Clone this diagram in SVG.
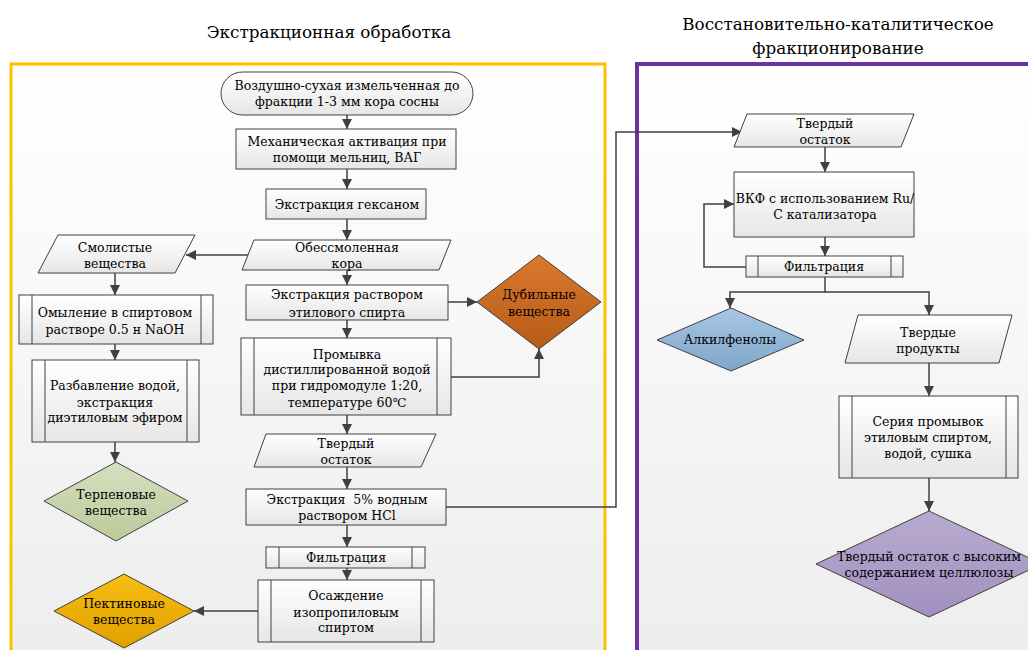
<svg xmlns="http://www.w3.org/2000/svg" width="1028" height="650" viewBox="0 0 1028 650">
<defs>
<linearGradient id="bg" x1="0" y1="0" x2="0" y2="1"><stop offset="0" stop-color="#FFFFFF"/><stop offset="1" stop-color="#EDEDED"/></linearGradient>
<linearGradient id="ng" x1="0" y1="0" x2="0" y2="1"><stop offset="0" stop-color="#FFFFFF"/><stop offset="1" stop-color="#E6E6E6"/></linearGradient>
<linearGradient id="gBrown" x1="0" y1="0" x2="0" y2="1"><stop offset="0" stop-color="#DB7A2E"/><stop offset="1" stop-color="#B65A16"/></linearGradient>
<linearGradient id="gGreen" x1="0" y1="0" x2="0" y2="1"><stop offset="0" stop-color="#D6DFC0"/><stop offset="1" stop-color="#BCCA9C"/></linearGradient>
<linearGradient id="gGold" x1="0" y1="0" x2="0" y2="1"><stop offset="0" stop-color="#F8BE10"/><stop offset="1" stop-color="#E0A000"/></linearGradient>
<linearGradient id="gBlue" x1="0" y1="0" x2="0" y2="1"><stop offset="0" stop-color="#A8C6E2"/><stop offset="1" stop-color="#7EA6CB"/></linearGradient>
<linearGradient id="gPurple" x1="0" y1="0" x2="0" y2="1"><stop offset="0" stop-color="#B8ABCF"/><stop offset="1" stop-color="#A190BF"/></linearGradient>
<marker id="arr" markerUnits="userSpaceOnUse" markerWidth="10" markerHeight="10" viewBox="0 0 10 10" refX="10" refY="5" orient="auto"><path d="M0,0 L10,5 L0,10 z" fill="#404040"/></marker>
<style>
.frame1{fill:url(#bg);stroke:#FFC000;stroke-width:3}
.frame2{fill:url(#bg);stroke:#7030A0;stroke-width:4}
.node{fill:url(#ng);stroke:#404040;stroke-width:1}
.dia{stroke:#404040;stroke-width:1}
.inner{stroke:#404040;stroke-width:1;fill:none}
.t{font-family:"DejaVu Serif",serif;font-size:12.5px;text-anchor:middle;fill:#000}
.title{font-family:"DejaVu Serif",serif;font-size:16.8px;text-anchor:middle;fill:#000}
.conn{fill:none;stroke:#404040;stroke-width:1.5}
.ar{marker-end:url(#arr)}
</style>
</defs>

<g id="titles">
<text class="title" x="329" y="38">Экстракционная обработка</text>
<text class="title" x="838" y="30">Восстановительно-каталитическое</text>
<text class="title" x="838" y="54">фракционирование</text>
</g>

<g id="frames">
<rect class="frame1" x="11" y="64" width="594" height="600"/>
<rect class="frame2" x="637" y="64" width="400" height="600"/>
</g>

<g id="connectors">
<path class="conn ar" d="M347,115 V129"/>
<path class="conn ar" d="M347,169 V189"/>
<path class="conn ar" d="M347,219 V240"/>
<path class="conn ar" d="M248,255 H186"/>
<path class="conn ar" d="M115,273 V295"/>
<path class="conn ar" d="M115,344 V360"/>
<path class="conn ar" d="M347,270 V285"/>
<path class="conn ar" d="M448,302 H477"/>
<path class="conn ar" d="M347,320 V338"/>
<path class="conn ar" d="M451,377 H539 V349"/>
<path class="conn ar" d="M347,415 V434"/>
<path class="conn ar" d="M115,442 V462"/>
<path class="conn ar" d="M347,467 V489"/>
<path class="conn ar" d="M446,507 H616 V132 H742"/>
<path class="conn ar" d="M347,525 V547"/>
<path class="conn ar" d="M347,568 V580"/>
<path class="conn ar" d="M258,611 H194"/>
<path class="conn ar" d="M825,147 V172"/>
<path class="conn ar" d="M825,237 V256"/>
<path class="conn ar" d="M746,267 H704 V204 H734"/>
<path class="conn ar" d="M825,277 V292 H730 V308"/>
<path class="conn ar" d="M825,292 H929 V315"/>
<path class="conn ar" d="M929,363 V396"/>
<path class="conn ar" d="M929,478 V511"/>
</g>

<g id="n-start">
<rect class="node" x="221" y="72" width="252" height="43" rx="21.5" ry="21.5"/>
<text class="t" x="347" y="90">Воздушно-сухая измельченная до</text>
<text class="t" x="347" y="106">фракции 1-3 мм кора сосны</text>
</g>
<g id="n-mech">
<rect class="node" x="236" y="129" width="220" height="40"/>
<text class="t" x="347" y="146">Механическая активация при</text>
<text class="t" x="347" y="162">помощи мельниц, ВАГ</text>
</g>
<g id="n-hexane">
<rect class="node" x="266" y="189" width="160" height="30"/>
<text class="t" x="347" y="209">Экстракция гексаном</text>
</g>
<g id="n-deresined">
<polygon class="node" points="254,240 451,240 439,270 242,270"/>
<text class="t" x="347" y="252">Обессмоленная</text>
<text class="t" x="347" y="268">кора</text>
</g>
<g id="n-resin">
<polygon class="node" points="58,235 195,235 175,273 38,273"/>
<text class="t" x="115" y="252">Смолистые</text>
<text class="t" x="115" y="268">вещества</text>
</g>
<g id="n-saponif">
<rect class="node" x="19" y="295" width="194" height="49"/>
<line class="inner" x1="32" y1="295" x2="32" y2="344"/>
<line class="inner" x1="201" y1="295" x2="201" y2="344"/>
<text class="t" x="115" y="317">Омыление в спиртовом</text>
<text class="t" x="115" y="334">растворе 0.5 н NaOH</text>
</g>
<g id="n-dilution">
<rect class="node" x="32" y="360" width="167" height="82"/>
<line class="inner" x1="45" y1="360" x2="45" y2="442"/>
<line class="inner" x1="187" y1="360" x2="187" y2="442"/>
<text class="t" x="115" y="390">Разбавление водой,</text>
<text class="t" x="115" y="407">экстракция</text>
<text class="t" x="115" y="422">диэтиловым эфиром</text>
</g>
<g id="n-terpene">
<polygon class="dia" fill="url(#gGreen)" points="116,462 188,501 116,541 44,501"/>
<text class="t" x="116" y="499">Терпеновые</text>
<text class="t" x="116" y="515">вещества</text>
</g>
<g id="n-ethanol">
<rect class="node" x="246" y="285" width="202" height="35"/>
<text class="t" x="347" y="299">Экстракция раствором</text>
<text class="t" x="347" y="317">этилового спирта</text>
</g>
<g id="n-tannin">
<polygon class="dia" fill="url(#gBrown)" points="539,255 601,302 539,349 477,302"/>
<text class="t" x="539" y="299">Дубильные</text>
<text class="t" x="539" y="316">вещества</text>
</g>
<g id="n-wash">
<rect class="node" x="241" y="338" width="210" height="77"/>
<line class="inner" x1="254" y1="338" x2="254" y2="415"/>
<line class="inner" x1="437" y1="338" x2="437" y2="415"/>
<text class="t" x="347" y="359">Промывка</text>
<text class="t" x="347" y="374">дистиллированной водой</text>
<text class="t" x="347" y="390">при гидромодуле 1:20,</text>
<text class="t" x="347" y="407">температуре 60℃</text>
</g>
<g id="n-solid1">
<polygon class="node" points="266,434 436,434 421,467 254,467"/>
<text class="t" x="346" y="448">Твердый</text>
<text class="t" x="346" y="464">остаток</text>
</g>
<g id="n-hcl">
<rect class="node" x="246" y="489" width="200" height="36"/>
<text class="t" x="347" y="504" xml:space="preserve">Экстракция  5% водным</text>
<text class="t" x="347" y="520">раствором HCl</text>
</g>
<g id="n-filt1">
<rect class="node" x="266" y="547" width="159" height="21"/>
<line class="inner" x1="279" y1="547" x2="279" y2="568"/>
<line class="inner" x1="412" y1="547" x2="412" y2="568"/>
<text class="t" x="346" y="562">Фильтрация</text>
</g>
<g id="n-precip">
<rect class="node" x="258" y="580" width="176" height="62"/>
<line class="inner" x1="271" y1="580" x2="271" y2="642"/>
<line class="inner" x1="421" y1="580" x2="421" y2="642"/>
<text class="t" x="346" y="600">Осаждение</text>
<text class="t" x="346" y="617">изопропиловым</text>
<text class="t" x="346" y="632">спиртом</text>
</g>
<g id="n-pectin">
<polygon class="dia" fill="url(#gGold)" points="124,574 194,611 124,648 54,611"/>
<text class="t" x="124" y="608">Пектиновые</text>
<text class="t" x="124" y="624">вещества</text>
</g>

<g id="n-solid2">
<polygon class="node" points="747,114 914,114 901,147 734,147"/>
<text class="t" x="825" y="128">Твердый</text>
<text class="t" x="825" y="144">остаток</text>
</g>
<g id="n-rcf">
<rect class="node" x="734" y="172" width="180" height="65"/>
<text class="t" x="825" y="203">ВКФ с использованием Ru/</text>
<text class="t" x="825" y="219">С катализатора</text>
</g>
<g id="n-filt2">
<rect class="node" x="746" y="256" width="157" height="21"/>
<line class="inner" x1="758" y1="256" x2="758" y2="277"/>
<line class="inner" x1="891" y1="256" x2="891" y2="277"/>
<text class="t" x="824" y="271">Фильтрация</text>
</g>
<g id="n-alkyl">
<polygon class="dia" fill="url(#gBlue)" points="731,308 804,340 731,371 657,340"/>
<text class="t" x="730" y="344">Алкилфенолы</text>
</g>
<g id="n-solidprod">
<polygon class="node" points="858,315 1012,315 999,363 845,363"/>
<text class="t" x="928" y="337">Твердые</text>
<text class="t" x="928" y="353">продукты</text>
</g>
<g id="n-series">
<rect class="node" x="839" y="396" width="179" height="82"/>
<line class="inner" x1="852" y1="396" x2="852" y2="478"/>
<line class="inner" x1="1006" y1="396" x2="1006" y2="478"/>
<text class="t" x="928" y="426">Серия промывок</text>
<text class="t" x="928" y="442">этиловым спиртом,</text>
<text class="t" x="928" y="458">водой, сушка</text>
</g>
<g id="n-cellulose">
<polygon class="dia" fill="url(#gPurple)" points="929,511 1042,564 929,617 816,564"/>
<text class="t" x="929" y="561">Твердый остаток с высоким</text>
<text class="t" x="929" y="577">содержанием целлюлозы</text>
</g>
</svg>
